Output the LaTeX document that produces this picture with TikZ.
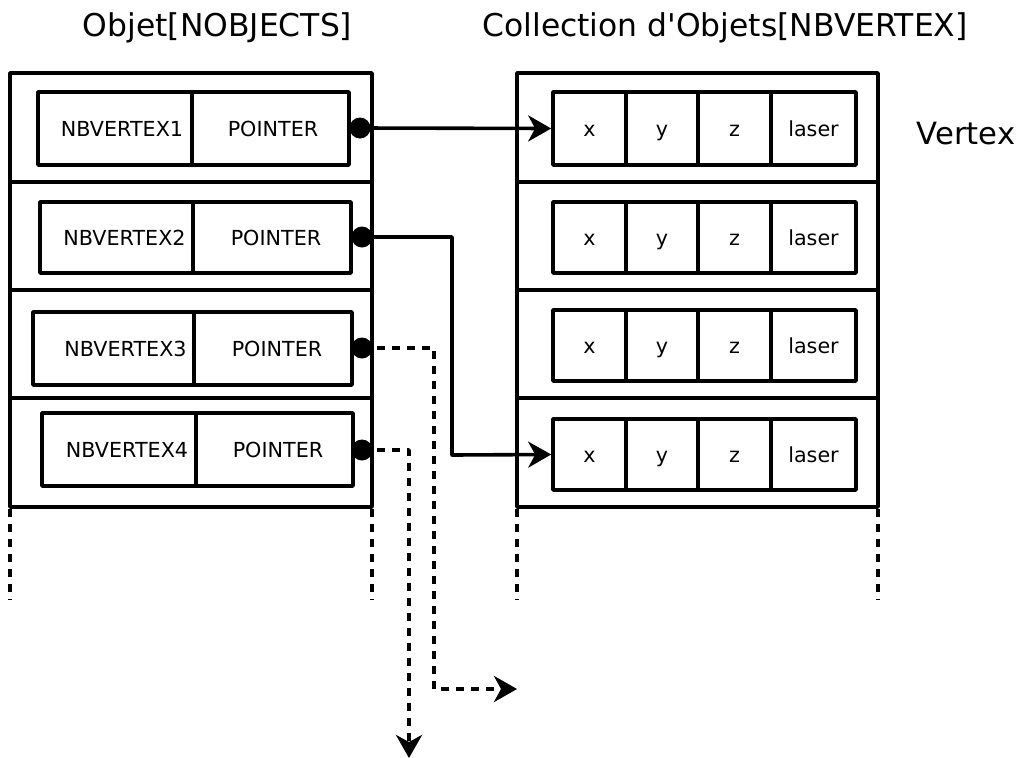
\documentclass[tikz,border=0pt]{standalone}
\usepackage{fontspec}
\setmainfont{DejaVu Sans}[Ligatures=TeXOff]
\usetikzlibrary{arrows.meta}

% cell given by its corners: name, x1, y1, x2, y2, text
\newcommand\boxcell[6]{%
  \pgfmathsetmacro\bcw{#4-#2}\pgfmathsetmacro\bch{#5-#3}%
  \node[cell, minimum width=\bcw pt, minimum height=\bch pt] (#1)
    at ({(#2+#4)/2},{(#3+#5)/2}) {#6};}

\begin{document}
\begin{tikzpicture}[x=1pt,y=-1pt,
  line width=3.6pt, line join=round,
  cell/.style={draw, line width=3.6pt, inner sep=0pt,
    font=\fontsize{20.7}{24}\selectfont, text height=15.1pt, text depth=0pt},
  lbl/.style={inner sep=0pt, font=\fontsize{20.7}{24}\selectfont,
    text height=15.1pt, text depth=0pt},
  title/.style={inner sep=0pt, font=\fontsize{31.4}{36}\selectfont,
    text height=22.9pt, text depth=0pt},
  dot/.style={circle, fill, inner sep=0pt, minimum size=21pt},
  ptr/.style={line width=3.6pt, -{Stealth[length=23pt,width=26pt,inset=7pt]}},
  ptrdash/.style={ptr, dash pattern=on 8pt off 7pt},
  cont/.style={line width=3.6pt, dash pattern=on 8pt off 7pt}
]
\useasboundingbox (0,0) rectangle (1021,758);

% titles
\node[title] (tobj) at (217.5,25) {Objet[NOBJECTS]};
\node[title] (tcol) at (725,25) {Collection d'Objets[NBVERTEX]};
\node[title, font=\fontsize{30.7}{35}\selectfont, text height=22.4pt] (tvert) at (966,133) {Vertex};

% left column: object table
\draw (10,73) rectangle (372,507);
\foreach \yy in {182,290,398} \draw (10,\yy) -- (372,\yy);
\draw[cont] (10,509) -- (10,600);
\draw[cont] (372,509) -- (372,600);

% right column: vertex collection
\draw (517,73) rectangle (878,507);
\foreach \yy in {182,290,398} \draw (517,\yy) -- (878,\yy);
\draw[cont] (517,509) -- (517,600);
\draw[cont] (878,509) -- (878,600);

% object entries
\boxcell{n1}{38}{92}{192}{165}{}
\boxcell{p1}{192}{92}{349}{165}{}
\boxcell{n2}{40}{202}{193}{273}{}
\boxcell{p2}{193}{202}{351}{273}{}
\boxcell{n3}{33}{312}{194}{385}{}
\boxcell{p3}{194}{312}{352}{385}{}
\boxcell{n4}{42}{413}{196}{486}{}
\boxcell{p4}{196}{413}{353}{486}{}

\node[lbl] (tn1) at (122,128.5) {NBVERTEX1};
\node[lbl] (tp1) at (273,128.5) {POINTER};
\node[lbl] (tn2) at (124.5,237.5) {NBVERTEX2};
\node[lbl] (tp2) at (276,237.5) {POINTER};
\node[lbl] (tn3) at (125.5,348.5) {NBVERTEX3};
\node[lbl] (tp3) at (277,348.5) {POINTER};
\node[lbl] (tn4) at (127,449.5) {NBVERTEX4};
\node[lbl] (tp4) at (278,449.5) {POINTER};

% vertex entries
\foreach \r/\ya/\yb in {1/92/165, 2/202/273, 3/310/381, 4/419/490}{
  \boxcell{vx\r}{553}{\ya}{626}{\yb}{x}
  \boxcell{vy\r}{626}{\ya}{698}{\yb}{y}
  \boxcell{vz\r}{698}{\ya}{771}{\yb}{z}
  \boxcell{vl\r}{771}{\ya}{856}{\yb}{laser}
}

% pointers
\node[dot] (d1) at (360,128) {};
\node[dot] (d2) at (362,237) {};
\node[dot] (d3) at (362,348) {};
\node[dot] (d4) at (362,450) {};

\coordinate (k2) at (452,455);
\coordinate (k3) at (434,689);
\coordinate (e3) at (517,689);
\coordinate (e4) at (409,758);

\draw[ptr] (d1.center) -- (vx1.west);
\draw[ptr] (d2.center) -| (k2) -- (vx4.west);
\draw[ptrdash] (d3.center) -| (k3) -- (e3);
\draw[ptrdash] (d4.center) -| (e4);
\end{tikzpicture}
\end{document}
